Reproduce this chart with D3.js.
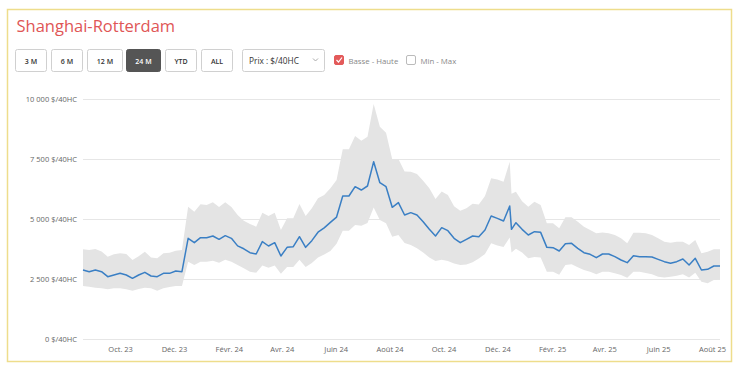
<!DOCTYPE html>
<html>
<head>
  <meta charset="utf-8">
  <script src="https://cdnjs.cloudflare.com/ajax/libs/d3/7.8.5/d3.min.js"></script>
  <style>
    body { margin: 0; background: #fff; }
    svg { display: block; font-family: "Open Sans", sans-serif; }
  </style>
</head>
<body>
  <svg></svg>
  <script>
    // weekly freight rates, 24 months (one extra quote mid-December 2024)
    var startDate = new Date(2023, 7, 20);
    var extraDate = new Date(2024, 11, 17);

    var midValues = [
      2875, 2806, 2875, 2806, 2597, 2667, 2736, 2667, 2528, 2667,
      2778, 2625, 2597, 2736, 2736, 2833, 2806, 4194, 4014, 4222,
      4222, 4292, 4153, 4306, 4194, 3880, 3760, 3597, 3542, 4056,
      3875, 4014, 3458, 3819, 3847, 4264, 3819, 4097, 4450, 4630,
      4860, 5080, 5958, 5958, 6347, 6208, 6375, 7389, 6514, 6347,
      5486, 5681, 5167, 5264, 5167, 4889, 4569, 4292, 4639, 4514,
      4194, 4014, 4153, 4292, 4264, 4542, 5125, 5028, 4917, 5542,
      4569,
      4847, 4569, 4333, 4472, 4444, 3819, 3806, 3667, 3972, 3986,
      3778, 3597, 3528, 3389, 3542, 3542, 3431, 3292, 3181, 3472,
      3431, 3431, 3417, 3319, 3222, 3153, 3222, 3333, 3083, 3361,
      2875, 2903, 3042, 3042
    ];

    var highValues = [
      3736, 3708, 3750, 3650, 3431, 3528, 3569, 3542, 3292, 3450,
      3639, 3400, 3361, 3569, 3597, 3680, 3708, 5514, 5306, 5611,
      5583, 5694, 5500, 5694, 5500, 5167, 4930, 4792, 4681, 5264,
      5125, 5264, 4542, 5028, 5028, 5625, 5125, 5444, 5861, 6000,
      6278, 6625, 7903, 7903, 8458, 8264, 8431, 9792, 8847, 8597,
      7486, 7500, 6980, 6970, 6880, 6590, 6278, 5830, 6150, 6000,
      5530, 5347, 5444, 5640, 5600, 5960, 6700, 6650, 6550, 7389,
      6050,
      6139, 5736, 5514, 5722, 5583, 4819, 4819, 4611, 5069, 5069,
      4889, 4681, 4542, 4403, 4440, 4403, 4333, 4194, 3986, 4431,
      4431, 4403, 4333, 4194, 4056, 4014, 4056, 4056, 3917, 4125,
      3569, 3639, 3736, 3736
    ];

    var lowValues = [
      2208, 2181, 2139, 2111, 2069, 2111, 2111, 2069, 2014, 2083,
      2139, 2111, 2014, 2111, 2167, 2208, 2208, 3222, 3083, 3222,
      3222, 3264, 3181, 3306, 3222, 3083, 2944, 2806, 2764, 3060,
      2972, 3060, 2720, 3000, 3000, 3300, 3000, 3170, 3400, 3520,
      3670, 3970, 4514, 4514, 4750, 4720, 4830, 5480, 4958, 4819,
      4264, 4333, 4000, 3917, 3778, 3600, 3400, 3250, 3300, 3250,
      3150, 3083, 3100, 3200, 3350, 3542, 3986, 3900, 3830, 4230,
      3600,
      3757, 3600, 3361, 3420, 3400, 2800, 2800, 2680, 3083, 3111,
      2986, 2875, 2806, 2694, 2806, 2806, 2736, 2667, 2550, 2806,
      2806, 2750, 2694, 2597, 2560, 2597, 2640, 2700, 2560, 2764,
      2389, 2319, 2458, 2486
    ];

    var yTickValues = [0, 2500, 5000, 7500, 10000];
    var monthLabels = ["Janv.", "Févr.", "Mars", "Avr.", "Mai", "Juin",
                       "Juil.", "Août", "Sept.", "Oct.", "Nov.", "Déc."];
    var buttonLabels = ["3 M", "6 M", "12 M", "24 M", "YTD", "ALL"];
    var activeButton = "24 M";

    // dates: one per week, plus the extra December quote
    var dates = d3.range(104).map(function(i) {
      return d3.timeDay.offset(startDate, 7 * i);
    });
    dates.splice(70, 0, extraDate);

    var data = dates.map(function(d, i) {
      return { date: d, mid: midValues[i], high: highValues[i], low: lowValues[i] };
    });

    var svg = d3.select("svg").attr("width", 742).attr("height", 370);

    // frame
    svg.append("rect")
      .attr("x", 7.5).attr("y", 9.5)
      .attr("width", 724).attr("height", 352)
      .attr("fill", "none")
      .attr("stroke", "#eedd8c")
      .attr("stroke-width", 1.5);

    svg.append("text")
      .attr("x", 16.5).attr("y", 32)
      .attr("fill", "#e05656")
      .style("font-size", "16.5px")
      .text("Shanghai-Rotterdam");

    // period buttons
    var buttonX = [15.5, 51.5, 87.5, 126.5, 165.5, 201.5];
    var buttonW = [31, 31, 35, 34, 31, 31];
    var btn = svg.selectAll("g.btn")
      .data(buttonLabels)
      .enter().append("g")
      .attr("class", "btn")
      .attr("transform", function(d, i) { return "translate(" + buttonX[i] + ",49.5)"; });

    btn.append("rect")
      .attr("width", function(d, i) { return buttonW[i]; })
      .attr("height", 22)
      .attr("rx", 2)
      .attr("fill", function(d) { return d == activeButton ? "#555" : "#fff"; })
      .attr("stroke", function(d) { return d == activeButton ? "#555" : "#d0d0d0"; });

    btn.append("text")
      .attr("x", function(d, i) { return buttonW[i] / 2; })
      .attr("y", 14)
      .attr("text-anchor", "middle")
      .attr("fill", function(d) { return d == activeButton ? "#fff" : "#333"; })
      .style("font-size", "7px")
      .style("font-weight", "600")
      .text(function(d) { return d; });

    // price dropdown
    svg.append("rect")
      .attr("x", 242.5).attr("y", 49.5)
      .attr("width", 82).attr("height", 22)
      .attr("rx", 2)
      .attr("fill", "#fff").attr("stroke", "#d0d0d0");
    svg.append("text")
      .attr("x", 249).attr("y", 63.5)
      .attr("fill", "#333")
      .style("font-size", "8.3px")
      .text("Prix : $/40HC");
    svg.append("polyline")
      .attr("points", "313,58.5 315.5,61 318,58.5")
      .attr("fill", "none").attr("stroke", "#aaa");

    // checkboxes
    svg.append("rect")
      .attr("x", 334.5).attr("y", 55.5)
      .attr("width", 9).attr("height", 9).attr("rx", 1.5)
      .attr("fill", "#e35a5a").attr("stroke", "#e35a5a");
    svg.append("polyline")
      .attr("points", "336.5,60 338.5,62 342,57.5")
      .attr("fill", "none").attr("stroke", "#fff").attr("stroke-width", 1.2);
    svg.append("text")
      .attr("x", 348.5).attr("y", 63.5)
      .attr("fill", "#888")
      .style("font-size", "7.8px")
      .text("Basse - Haute");
    svg.append("rect")
      .attr("x", 406.5).attr("y", 55.5)
      .attr("width", 9).attr("height", 9).attr("rx", 1.5)
      .attr("fill", "#fff").attr("stroke", "#bbb");
    svg.append("text")
      .attr("x", 420.5).attr("y", 63.5)
      .attr("fill", "#888")
      .style("font-size", "7.8px")
      .text("Min - Max");

    // scales
    var x = d3.scaleTime()
      .domain([dates[0], dates[dates.length - 1]])
      .range([83, 720]);
    var y = d3.scaleLinear().domain([0, 10000]).range([339, 99]);

    var fmt = d3.format(",");

    // grid
    svg.append("g").selectAll("line")
      .data(yTickValues)
      .enter().append("line")
      .attr("x1", 83).attr("x2", 720)
      .attr("y1", function(d) { return Math.round(y(d)) + 0.5; })
      .attr("y2", function(d) { return Math.round(y(d)) + 0.5; })
      .attr("stroke", "#e6e6e6");

    var yAxis = svg.append("g")
      .attr("transform", "translate(80,0)")
      .call(d3.axisLeft(y).tickValues(yTickValues).tickSize(0)
        .tickFormat(function(d) { return fmt(d).replace(/,/g, " ") + " $/40HC"; }));
    yAxis.select(".domain").remove();
    yAxis.selectAll("text")
      .attr("fill", "#666")
      .style("font-family", "Open Sans")
      .style("font-size", "7.5px");

    // a label every second month, Oct. 23 to Août 25
    var xTicks = d3.range(12).map(function(i) { return new Date(2023, 9 + 2 * i, 1); });
    var xAxis = svg.append("g")
      .attr("transform", "translate(0,344)")
      .call(d3.axisBottom(x).tickValues(xTicks).tickSize(0)
        .tickFormat(function(d) {
          return monthLabels[d.getMonth()] + " " + String(d.getFullYear()).slice(2);
        }));
    xAxis.select(".domain").remove();
    xAxis.selectAll("text")
      .attr("fill", "#666")
      .style("font-family", "Open Sans")
      .style("font-size", "7.5px");

    // low-high band
    var area = d3.area()
      .x(function(d) { return x(d.date); })
      .y0(function(d) { return y(d.low); })
      .y1(function(d) { return y(d.high); });
    svg.append("path")
      .datum(data)
      .attr("d", area)
      .attr("fill", "#e4e4e4");

    // average line
    var line = d3.line()
      .x(function(d) { return x(d.date); })
      .y(function(d) { return y(d.mid); });
    svg.append("path")
      .datum(data)
      .attr("d", line)
      .attr("fill", "none")
      .attr("stroke", "#3a7fc4")
      .attr("stroke-width", 1.5)
      .attr("stroke-linejoin", "round");
  </script>
</body>
</html>
